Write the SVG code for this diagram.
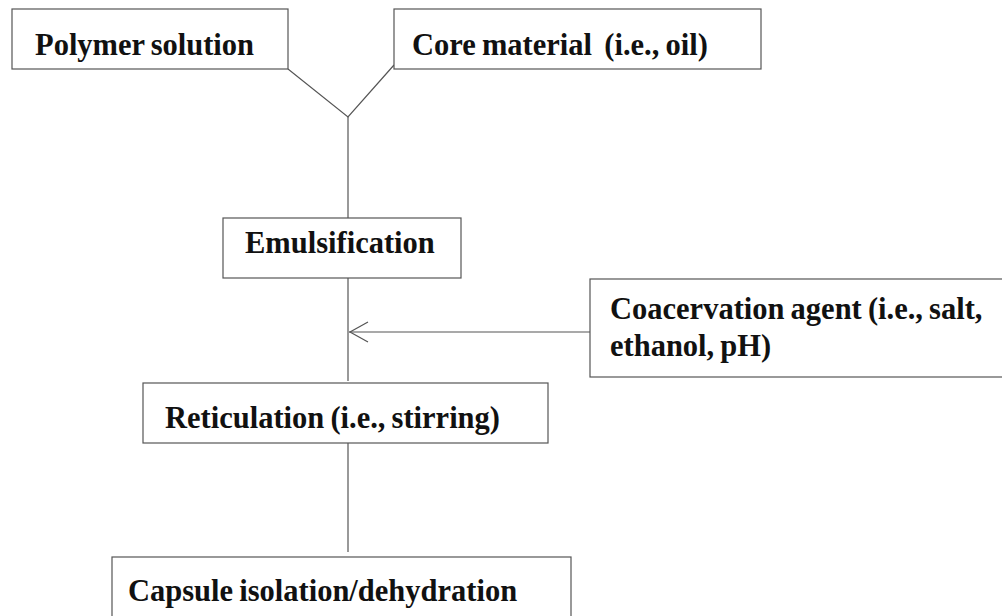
<svg xmlns="http://www.w3.org/2000/svg" width="1002" height="616" viewBox="0 0 1002 616">
<style>
.box{fill:#fff;stroke:#555;stroke-width:1.2}
.t{font-family:'Liberation Serif',serif;font-weight:700;font-size:30.5px;fill:#111;word-spacing:-1.5px}
.c{fill:none;stroke:#555;stroke-width:1.2}
</style>
<rect width="1002" height="616" fill="#fff"/>
<g id="connectors">
<polyline class="c" points="288,69 348,117 394,65"/>
<line class="c" x1="348" y1="117" x2="348" y2="218"/>
<line class="c" x1="348" y1="278" x2="348" y2="381"/>
<line class="c" x1="348" y1="443" x2="348" y2="552"/>
<line class="c" x1="349" y1="332" x2="590" y2="332"/>
<polyline class="c" points="368,322 350,332 368,342" stroke-width="2"/>
</g>
<g id="polymer">
<rect class="box" x="12" y="9" width="276" height="60"/>
<text class="t" x="35" y="55">Polymer solution</text>
</g>
<g id="core">
<rect class="box" x="394" y="9" width="367" height="60"/>
<text class="t" x="412" y="55" xml:space="preserve">Core material  (i.e., oil)</text>
</g>
<g id="emulsification">
<rect class="box" x="223" y="218" width="238" height="60"/>
<text class="t" x="245" y="253">Emulsification</text>
</g>
<g id="coacervation">
<rect class="box" x="590" y="279" width="420" height="98"/>
<text class="t" x="610" y="319">Coacervation agent (i.e., salt,</text>
<text class="t" x="610" y="356">ethanol, pH)</text>
</g>
<g id="reticulation">
<rect class="box" x="143" y="383" width="405" height="60"/>
<text class="t" x="165" y="428">Reticulation (i.e., stirring)</text>
</g>
<g id="capsule">
<rect class="box" x="112" y="557" width="459" height="70"/>
<text class="t" x="128" y="601">Capsule isolation/dehydration</text>
</g>
</svg>
